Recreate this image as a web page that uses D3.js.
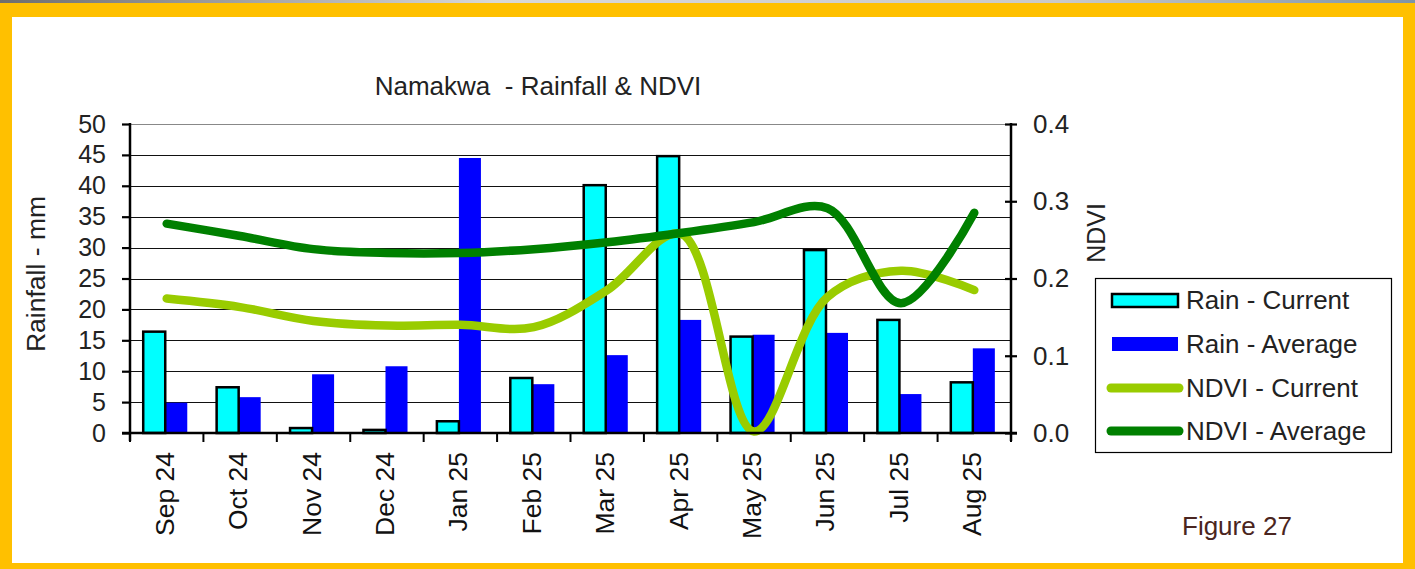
<!DOCTYPE html>
<html>
<head>
<meta charset="utf-8">
<script src="https://cdn.jsdelivr.net/npm/d3@7"></script>
<style>
  html, body { margin: 0; padding: 0; background: #FFC000; }
  svg { display: block; font-family: "Liberation Sans", Arial, sans-serif; }
</style>
</head>
<body>
<svg id="chart" width="1415" height="569"></svg>
<script>
// Chart data
var months = ["Sep 24", "Oct 24", "Nov 24", "Dec 24", "Jan 25", "Feb 25",
              "Mar 25", "Apr 25", "May 25", "Jun 25", "Jul 25", "Aug 25"];
var rainCurrent = [16.4, 7.4, 0.8, 0.5, 1.9, 8.9, 40.1, 44.8, 15.6, 29.6, 18.3, 8.2];
var rainAverage = [4.9, 5.8, 9.5, 10.8, 44.5, 7.9, 12.6, 18.3, 15.9, 16.2, 6.3, 13.7];
var ndviCurrent = [0.174, 0.163, 0.145, 0.139, 0.140, 0.137, 0.185, 0.258, 0.002, 0.176, 0.210, 0.185];
var ndviAverage = [0.271, 0.255, 0.238, 0.233, 0.233, 0.238, 0.247, 0.259, 0.273, 0.291, 0.168, 0.285];
var rainTicks = d3.range(0, 55, 5);
var ndviTicks = [0, 0.1, 0.2, 0.3, 0.4];
var legendItems = ["Rain - Current", "Rain - Average", "NDVI - Current", "NDVI - Average"];

var svg = d3.select("#chart");

// Frame: grey strip, yellow border, white panel
var defs = svg.append("defs");
var grad = defs.append("linearGradient").attr("id", "strip");
grad.append("stop").attr("offset", "0%").attr("stop-color", "#6e6e6e");
grad.append("stop").attr("offset", "35%").attr("stop-color", "#d8d8d8");
grad.append("stop").attr("offset", "75%").attr("stop-color", "#c9c9c9");
grad.append("stop").attr("offset", "100%").attr("stop-color", "#7d94a8");
svg.append("rect").attr("x", 0).attr("y", 0).attr("width", 1415).attr("height", 3).attr("fill", "url(#strip)");
svg.append("rect").attr("x", 12).attr("y", 17).attr("width", 1391).attr("height", 546).attr("fill", "#fff");

// Plot area
var plotL = 130, plotR = 1011, plotT = 124, plotB = 433;

var x = d3.scaleBand().domain(months).range([plotL, plotR]);
var bw = x.bandwidth();
var x1 = d3.scaleBand().domain(["cur", "avg"]).range([bw * 0.18, bw * 0.78]);
var y = d3.scaleLinear().domain([0, 50]).range([plotB, plotT]);
var y2 = d3.scaleLinear().domain([0, 0.4]).range([plotB, plotT]);

// Gridlines
svg.append("g").selectAll("line").data(rainTicks.slice(1)).join("line")
  .attr("x1", plotL).attr("x2", plotR)
  .attr("y1", function (d) { return Math.round(y(d)) + 0.5; })
  .attr("y2", function (d) { return Math.round(y(d)) + 0.5; })
  .attr("stroke", function (d) { return d === 50 ? "#888" : "#111"; })
  .attr("stroke-width", 1.2);

// Bars
var g = svg.append("g");
g.selectAll("rect.avg").data(months).join("rect").attr("class", "avg")
  .attr("x", function (d) { return x(d) + x1("avg"); })
  .attr("width", x1.bandwidth())
  .attr("y", function (d, i) { return y(rainAverage[i]); })
  .attr("height", function (d, i) { return plotB - y(rainAverage[i]); })
  .attr("fill", "#0000FF");
g.selectAll("rect.cur").data(months).join("rect").attr("class", "cur")
  .attr("x", function (d) { return x(d) + x1("cur"); })
  .attr("width", x1.bandwidth())
  .attr("y", function (d, i) { return y(rainCurrent[i]); })
  .attr("height", function (d, i) { return plotB - y(rainCurrent[i]); })
  .attr("fill", "#00FFFF").attr("stroke", "#000").attr("stroke-width", 2.5);

// NDVI lines
var line = d3.line()
  .x(function (d, i) { return x(months[i]) + bw / 2; })
  .y(function (d) { return y2(d); })
  .curve(d3.curveCatmullRom.alpha(0.5));
svg.append("path").datum(ndviCurrent).attr("d", line)
  .attr("fill", "none").attr("stroke", "#99CC00").attr("stroke-width", 8.5)
  .attr("stroke-linecap", "round").attr("stroke-linejoin", "round");
svg.append("path").datum(ndviAverage).attr("d", line)
  .attr("fill", "none").attr("stroke", "#008000").attr("stroke-width", 8.5)
  .attr("stroke-linecap", "round").attr("stroke-linejoin", "round");

// Left axis
var yAxis = svg.append("g").attr("transform", "translate(" + plotL + ",0)")
  .call(d3.axisLeft(y).tickValues(rainTicks).tickSize(8).tickPadding(16));
yAxis.select(".domain").remove();
yAxis.selectAll("line").attr("stroke", "#000").attr("stroke-width", 2.2);
yAxis.selectAll("text").attr("font-size", 25).attr("fill", "#222")
  .attr("font-family", "Liberation Sans, Arial, sans-serif");
svg.append("line").attr("x1", plotL).attr("x2", plotL).attr("y1", plotT - 1).attr("y2", plotB + 8)
  .attr("stroke", "#000").attr("stroke-width", 2.5);

// Right axis
var y2Axis = svg.append("g").attr("transform", "translate(" + plotR + ",0)")
  .call(d3.axisRight(y2).tickValues(ndviTicks).tickSize(6).tickPadding(16)
    .tickFormat(d3.format(".1f")));
y2Axis.select(".domain").remove();
y2Axis.selectAll("line").attr("x1", -6).attr("stroke", "#000").attr("stroke-width", 2.2);
y2Axis.selectAll("text").attr("font-size", 26).attr("fill", "#222")
  .attr("font-family", "Liberation Sans, Arial, sans-serif");
svg.append("line").attr("x1", plotR).attr("x2", plotR).attr("y1", plotT - 1).attr("y2", plotB + 8)
  .attr("stroke", "#000").attr("stroke-width", 2.5);

// Bottom axis
svg.append("line").attr("x1", plotL - 8).attr("x2", plotR + 6).attr("y1", plotB).attr("y2", plotB)
  .attr("stroke", "#000").attr("stroke-width", 2.5);
svg.append("g").selectAll("line").data(months.concat(["end"])).join("line")
  .attr("x1", function (d, i) { return plotL + i * bw; })
  .attr("x2", function (d, i) { return plotL + i * bw; })
  .attr("y1", plotB).attr("y2", plotB + 9)
  .attr("stroke", "#000").attr("stroke-width", 2);
svg.append("g").selectAll("text").data(months).join("text")
  .attr("transform", function (d) {
    return "translate(" + (x(d) + bw / 2 + 7) + "," + 452 + ") rotate(-90)";
  })
  .attr("text-anchor", "end")
  .attr("font-size", 26.5).attr("fill", "#111")
  .text(function (d) { return d; });

// Titles
svg.append("text").attr("x", 538).attr("y", 95).attr("text-anchor", "middle")
  .attr("font-size", 26).attr("fill", "#222").attr("xml:space", "preserve")
  .text("Namakwa  - Rainfall & NDVI");
svg.append("text").attr("transform", "translate(45,274) rotate(-90)")
  .attr("text-anchor", "middle").attr("font-size", 26.5).attr("fill", "#222")
  .text("Rainfall - mm");
svg.append("text").attr("transform", "translate(1105,233) rotate(-90)")
  .attr("text-anchor", "middle").attr("font-size", 25).attr("fill", "#222")
  .text("NDVI");

// Legend
var lg = svg.append("g");
lg.append("rect").attr("x", 1095.5).attr("y", 278.5).attr("width", 296).attr("height", 174)
  .attr("fill", "#fff").attr("stroke", "#000").attr("stroke-width", 1.2);
var rowY = [300, 344, 388, 431];
lg.append("rect").attr("x", 1112).attr("y", rowY[0] - 6).attr("width", 66).attr("height", 13)
  .attr("fill", "#00FFFF").attr("stroke", "#000").attr("stroke-width", 2.5);
lg.append("rect").attr("x", 1112).attr("y", rowY[1] - 7).attr("width", 66).attr("height", 14)
  .attr("fill", "#0000FF");
lg.append("line").attr("x1", 1111).attr("x2", 1179).attr("y1", rowY[2]).attr("y2", rowY[2])
  .attr("stroke", "#99CC00").attr("stroke-width", 9).attr("stroke-linecap", "round");
lg.append("line").attr("x1", 1111).attr("x2", 1179).attr("y1", rowY[3]).attr("y2", rowY[3])
  .attr("stroke", "#008000").attr("stroke-width", 9).attr("stroke-linecap", "round");
lg.selectAll("text").data(legendItems).join("text")
  .attr("x", 1186).attr("y", function (d, i) { return rowY[i] + 9; })
  .attr("font-size", 26).attr("fill", "#222")
  .text(function (d) { return d; });

// Figure caption
svg.append("text").attr("x", 1182).attr("y", 535).attr("font-size", 26)
  .attr("fill", "#4a2520").text("Figure 27");
</script>
</body>
</html>
